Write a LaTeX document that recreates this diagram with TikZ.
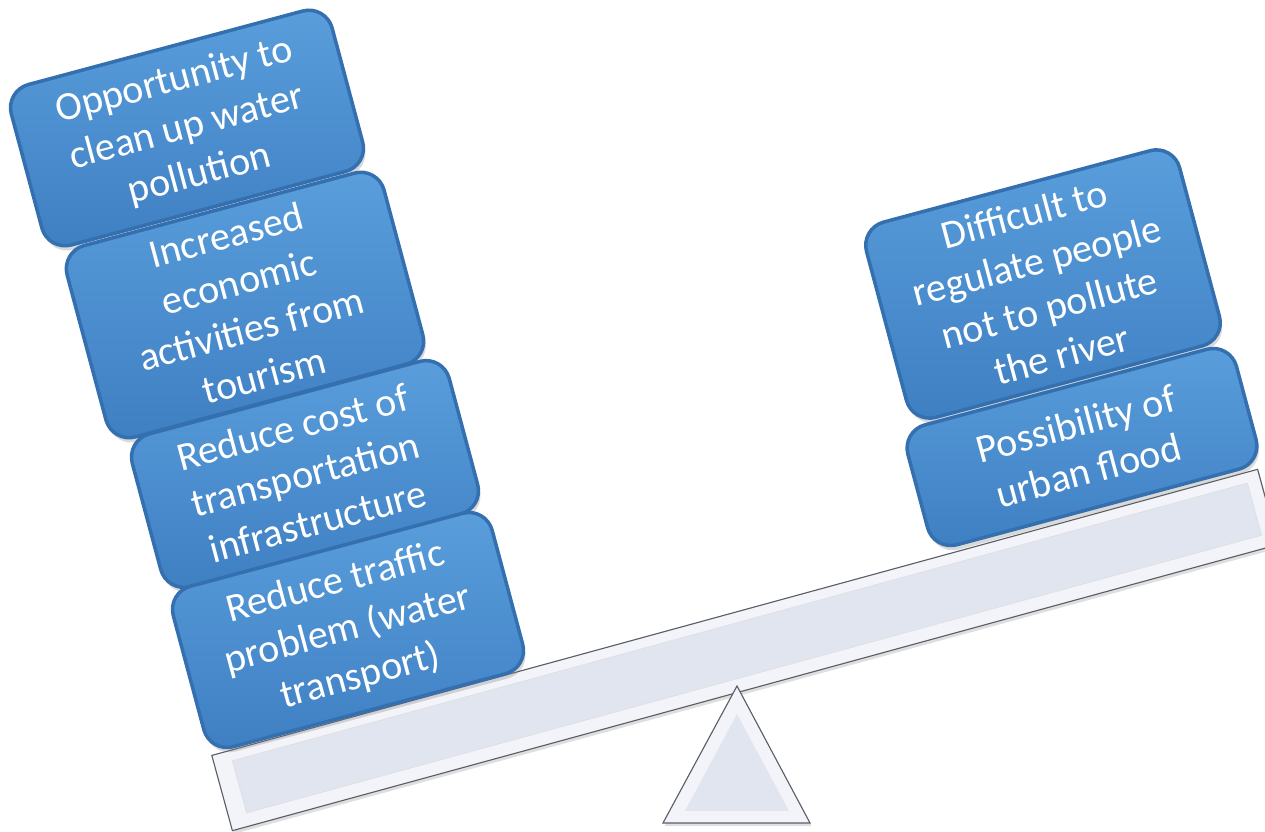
\documentclass[tikz,border=0pt]{standalone}
\usepackage{fontspec}
\setmainfont{Carlito}
\usepackage{tikz}
\usetikzlibrary{shadows}
\definecolor{platetop}{HTML}{5A9EDC}
\definecolor{platebot}{HTML}{3E7FC2}
\definecolor{plateedge}{HTML}{3470B0}
\definecolor{beamfill}{HTML}{E0E5F0}
\definecolor{beamlight}{HTML}{F2F4F9}
\definecolor{beamedge}{HTML}{5A5E66}
\tikzset{
  plate/.style={rectangle, rounded corners=0.6cm, rotate=15, draw=plateedge,
    line width=2.5pt, top color=platetop, bottom color=platebot, text=white,
    align=center, inner sep=0pt, font=\fontsize{28.5}{34.5}\selectfont,
    drop shadow={opacity=0.3, shadow xshift=0.05cm, shadow yshift=-0.12cm}},
  beamouter/.style={rectangle, rotate=15.3, fill=beamlight, draw=beamedge,
    line width=0.8pt, minimum width=27.1cm, minimum height=1.95cm,
    drop shadow={opacity=0.25, shadow xshift=0.04cm, shadow yshift=-0.08cm}},
  beaminner/.style={rectangle, rotate=15.3, fill=beamfill, draw=white!80!beamedge,
    line width=0.5pt, minimum width=26.3cm, minimum height=1.35cm},
}

\begin{document}
\begin{tikzpicture}[x=0.025cm,y=-0.025cm]
\useasboundingbox (0,0) rectangle (1265,832);
% lever
\node[beamouter] (beam) at (745,650) {};
\node[beaminner] (beamface) at (747,648) {};
% fulcrum
\coordinate (apex) at (737,686);
\coordinate (baseL) at (663,823);
\coordinate (baseR) at (810,823);
\coordinate (inA) at (737,714);
\coordinate (inL) at (685,811);
\coordinate (inR) at (789,811);
\draw[beamedge, line width=0.8pt, fill=beamlight,
  drop shadow={opacity=0.25, shadow xshift=0.04cm, shadow yshift=-0.08cm}]
  (apex) -- (baseR) -- (baseL) -- cycle;
\fill[beamfill] (inA) -- (inR) -- (inL) -- cycle;
% left side
\node[plate, minimum width=8.3cm, minimum height=4.15cm] (clean) at (187,128)
  {Opportunity to\\clean up water\\pollution};
\node[plate, minimum width=8.2cm, minimum height=4.95cm] (tourism) at (245,305)
  {Increased\\economic\\activities from\\tourism};
\node[plate, minimum width=8.2cm, minimum height=3.95cm] (cost) at (305,474)
  {Reduce cost of\\transportation\\infrastructure};
\node[plate, minimum width=8.25cm, minimum height=4.15cm] (traffic) at (348,630)
  {Reduce traffic\\problem (water\\transport)};
% right side
\node[plate, minimum width=8.1cm, minimum height=5.05cm] (regulate) at (1043,284)
  {Difficult to\\regulate people\\not to pollute\\the river};
\node[plate, minimum width=8.5cm, minimum height=3.1cm] (flood) at (1082,447)
  {Possibility of\\urban flood};
\end{tikzpicture}
\end{document}
